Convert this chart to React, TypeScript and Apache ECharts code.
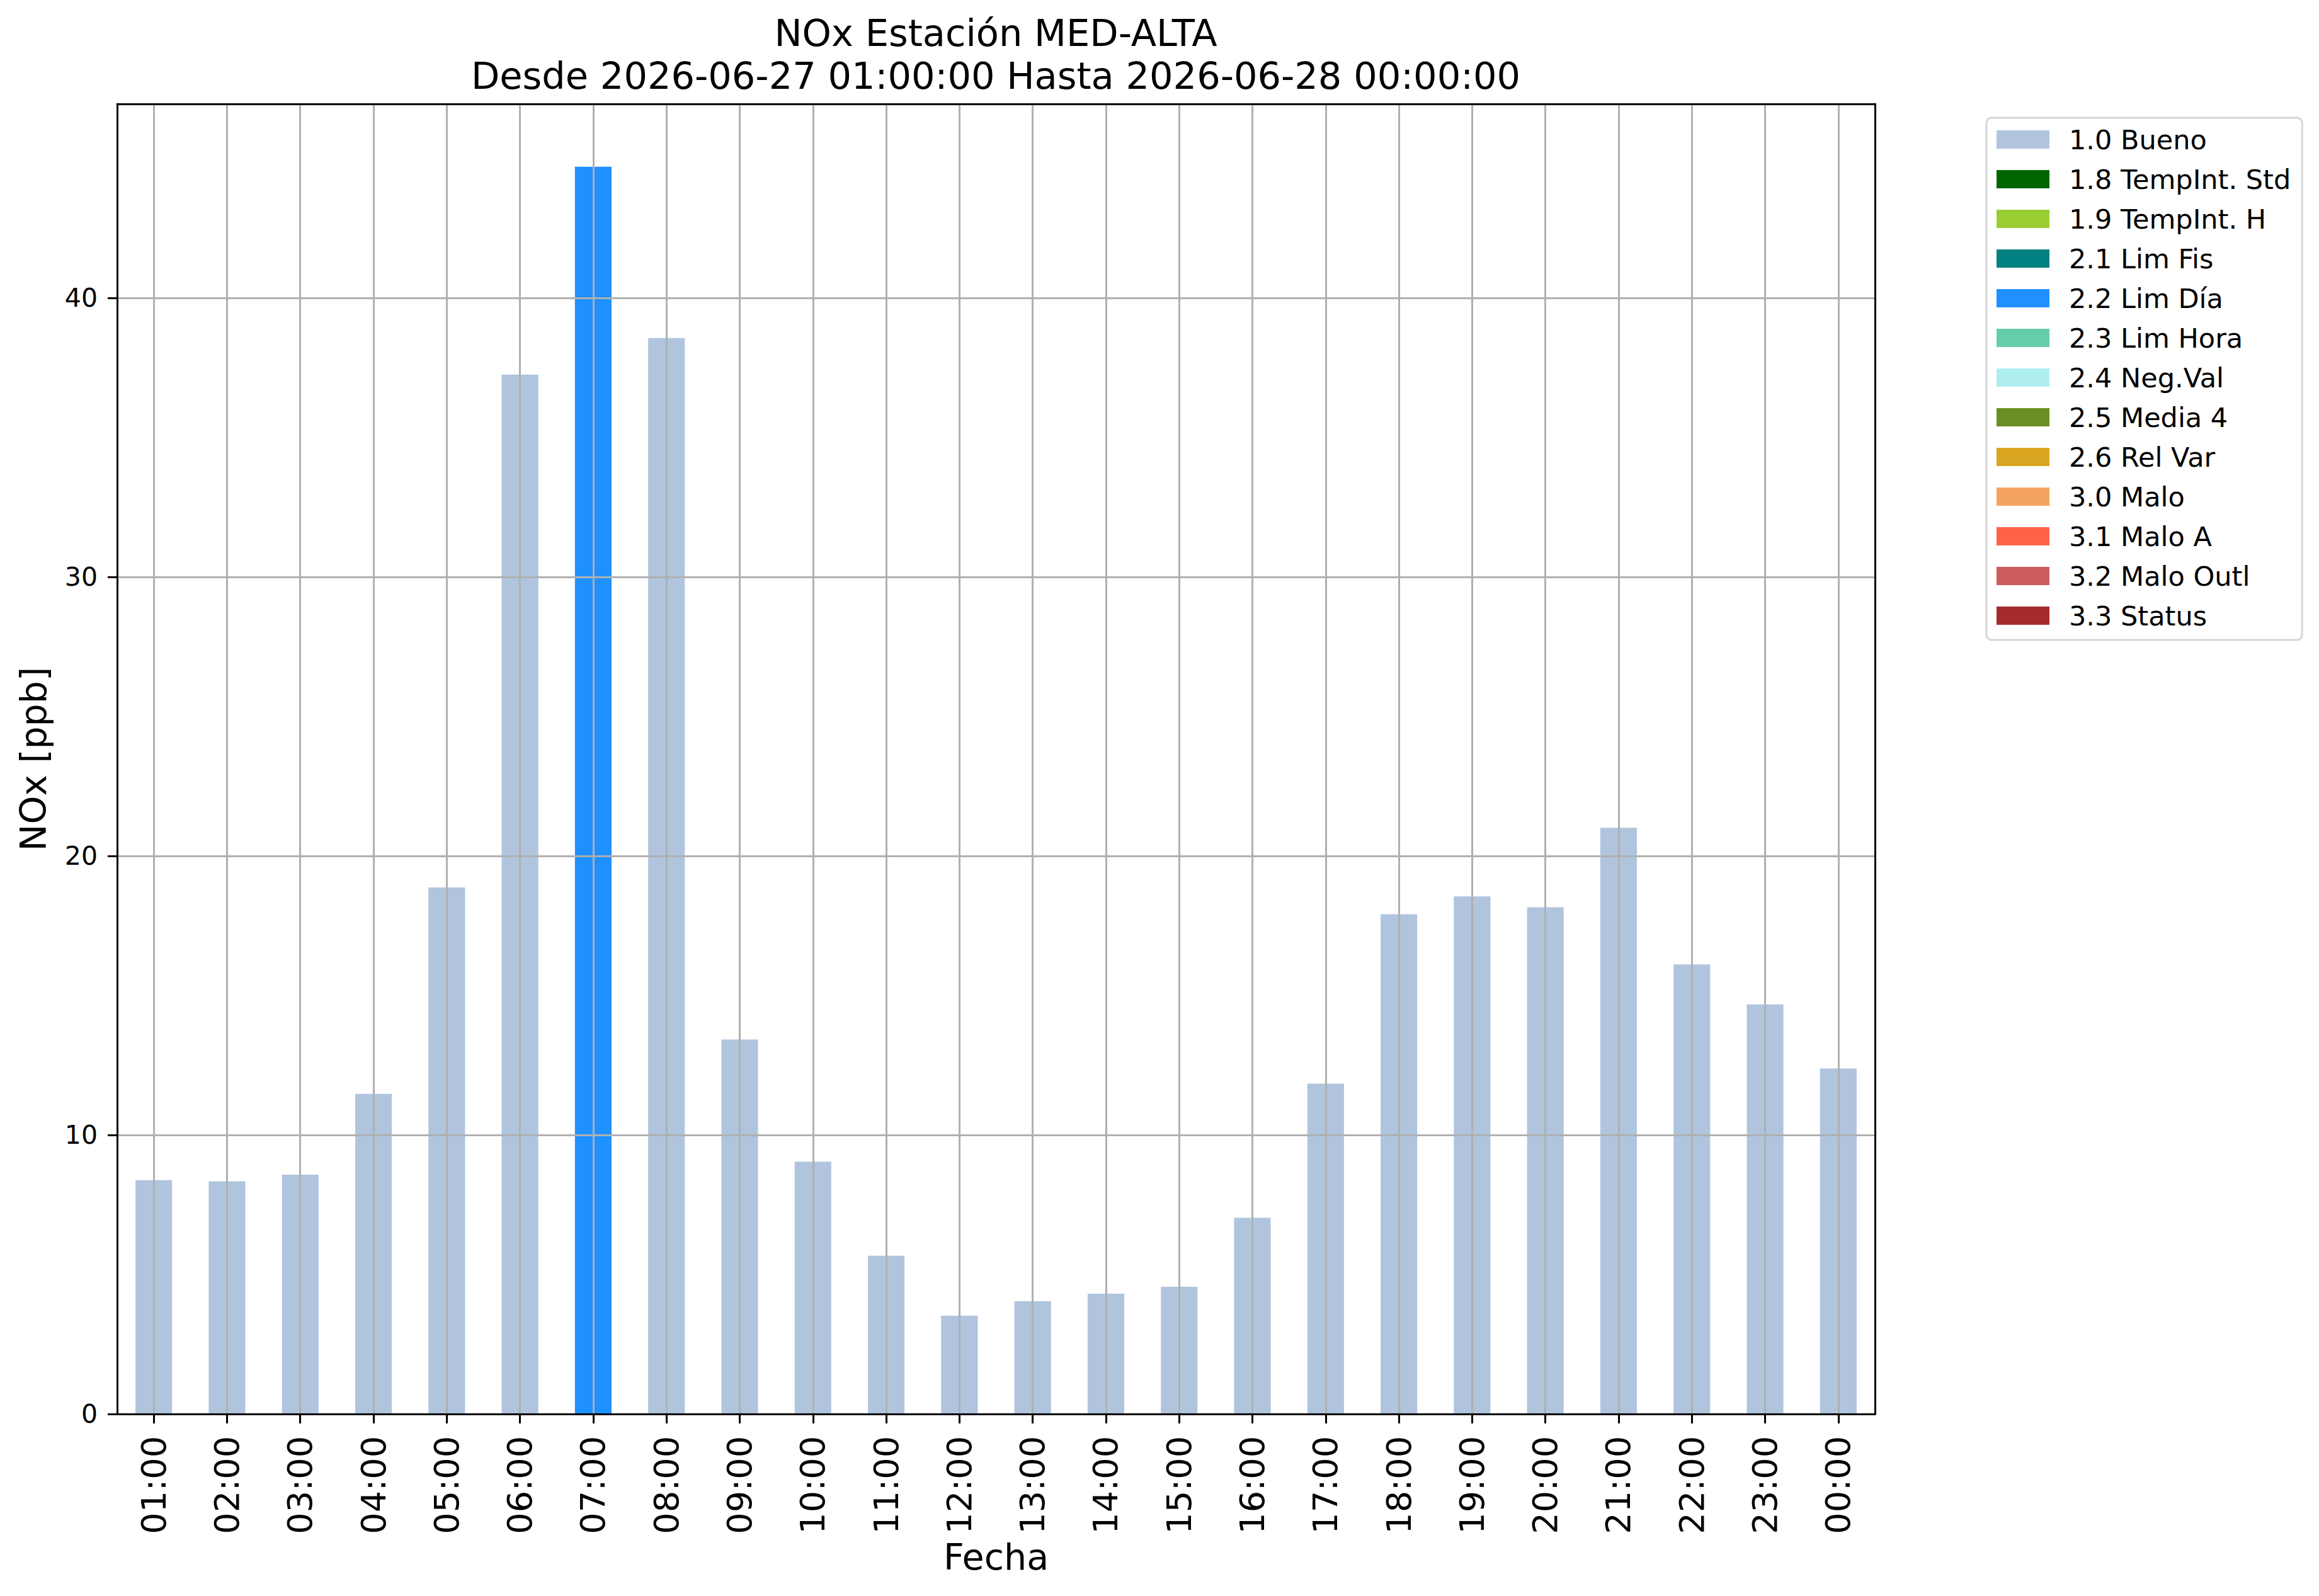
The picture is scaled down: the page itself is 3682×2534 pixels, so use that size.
import React, { useEffect, useRef } from 'react';
import * as echarts from 'echarts';

const hours = ['01:00', '02:00', '03:00', '04:00', '05:00', '06:00', '07:00', '08:00', '09:00', '10:00', '11:00', '12:00', '13:00', '14:00', '15:00', '16:00', '17:00', '18:00', '19:00', '20:00', '21:00', '22:00', '23:00', '00:00'];

const bueno = [8.38, 8.34, 8.58, 11.47, 18.87, 37.25, null, 38.56, 13.42, 9.04, 5.67, 3.52, 4.04, 4.31, 4.56, 7.03, 11.84, 17.91, 18.55, 18.16, 21.01, 16.11, 14.68, 12.38];
const limDia = [null, null, null, null, null, null, 44.7, null, null, null, null, null, null, null, null, null, null, null, null, null, null, null, null, null];
const emptyFlag = [null, null, null, null, null, null, null, null, null, null, null, null, null, null, null, null, null, null, null, null, null, null, null, null];

const flagNames = ['1.0 Bueno', '1.8 TempInt. Std', '1.9 TempInt. H', '2.1 Lim Fis', '2.2 Lim Día', '2.3 Lim Hora', '2.4 Neg.Val', '2.5 Media 4', '2.6 Rel Var', '3.0 Malo', '3.1 Malo A', '3.2 Malo Outl', '3.3 Status'];
const flagColors = ['#B0C4DE', '#006400', '#9ACD32', '#008080', '#1E90FF', '#66CDAA', '#AFEEEE', '#6B8E23', '#DAA520', '#F4A460', '#FF6347', '#CD5C5C', '#A52A2A'];
const flagData: Record<string, (number | null)[]> = {
  '1.0 Bueno': bueno,
  '2.2 Lim Día': limDia,
};

const yTicks = [0, 10, 20, 30, 40];
const yMax = 46.95;

const FONT = 'DejaVu Sans';

export default function App() {
  const ref = useRef<HTMLDivElement>(null);
  useEffect(() => {
    if (!ref.current) return;
    const chart = echarts.init(ref.current, undefined, { renderer: 'svg' });
    const black = '#000';
    chart.setOption({
      animation: false,
      backgroundColor: '#fff',
      textStyle: { fontFamily: FONT },
      title: {
        text: 'NOx Estación MED-ALTA\nDesde 2026-06-27 01:00:00 Hasta 2026-06-28 00:00:00',
        left: 1581,
        top: 18,
        textAlign: 'center',
        padding: 0,
        textStyle: { fontSize: 59, fontWeight: 'normal', color: black, lineHeight: 68, fontFamily: FONT },
      },
      legend: {
        data: flagNames,
        orient: 'vertical',
        left: 3154,
        top: 187,
        padding: [13, 18, 17, 16],
        itemWidth: 84,
        itemHeight: 29,
        itemGap: 20,
        icon: 'rect',
        borderColor: '#d6d6d6',
        borderWidth: 3,
        borderRadius: 8,
        backgroundColor: '#fff',
        selectedMode: false,
        textStyle: { fontSize: 43, fontFamily: FONT, color: black, padding: [0, 0, 0, 26] },
      },
      grid: { left: 186, right: 705, top: 165, bottom: 289, containLabel: false },
      xAxis: [
        {
          type: 'category',
          data: hours,
          boundaryGap: true,
          position: 'bottom',
          z: 6,
          axisLine: { show: true, lineStyle: { color: black, width: 3 } },
          axisTick: { show: true, alignWithLabel: true, interval: 0, length: 15, lineStyle: { color: black, width: 3 } },
          axisLabel: { interval: 0, rotate: 90, margin: 35, fontSize: 54, color: black, fontFamily: FONT },
          splitLine: { show: true, interval: 0, alignWithLabel: true, lineStyle: { color: '#b0b0b0', width: 3 } },
          name: 'Fecha',
          nameLocation: 'middle',
          nameGap: 195,
          nameTextStyle: { fontSize: 57, color: black, fontFamily: FONT },
        },
        {
          type: 'category',
          data: hours,
          position: 'top',
          z: 10,
          axisLine: { show: true, onZero: false, lineStyle: { color: black, width: 3 } },
          axisTick: { show: false },
          axisLabel: { show: false },
          splitLine: { show: false },
        },
      ],
      yAxis: [
        {
          type: 'value',
          min: 0,
          max: yMax,
          interval: 10,
          z: 5,
          axisLine: { show: true, lineStyle: { color: black, width: 3 } },
          axisTick: { show: true, length: 15, customValues: yTicks, lineStyle: { color: black, width: 3 } },
          axisLabel: { customValues: yTicks, margin: 31, fontSize: 41, color: black, fontFamily: FONT },
          splitLine: { show: true, lineStyle: { color: '#b0b0b0', width: 3 } },
          name: 'NOx [ppb]',
          nameLocation: 'middle',
          nameGap: 105,
          nameTextStyle: { fontSize: 57, color: black, fontFamily: FONT },
        },
        {
          type: 'value',
          min: 0,
          max: yMax,
          position: 'right',
          z: 10,
          axisLine: { show: true, onZero: false, lineStyle: { color: black, width: 3 } },
          axisTick: { show: false },
          axisLabel: { show: false },
          splitLine: { show: false },
        },
      ],
      series: flagNames.map((name, i) => ({
        name,
        type: 'bar',
        stack: 'flags',
        barWidth: '50%',
        xAxisIndex: 0,
        yAxisIndex: 0,
        itemStyle: { color: flagColors[i] },
        emphasis: { disabled: true },
        data: flagData[name] || emptyFlag,
      })),
    });
    return () => chart.dispose();
  }, []);
  return <div ref={ref} style={{ position: 'absolute', left: 0, top: 0, width: 3682, height: 2534, background: '#fff' }} />;
}
